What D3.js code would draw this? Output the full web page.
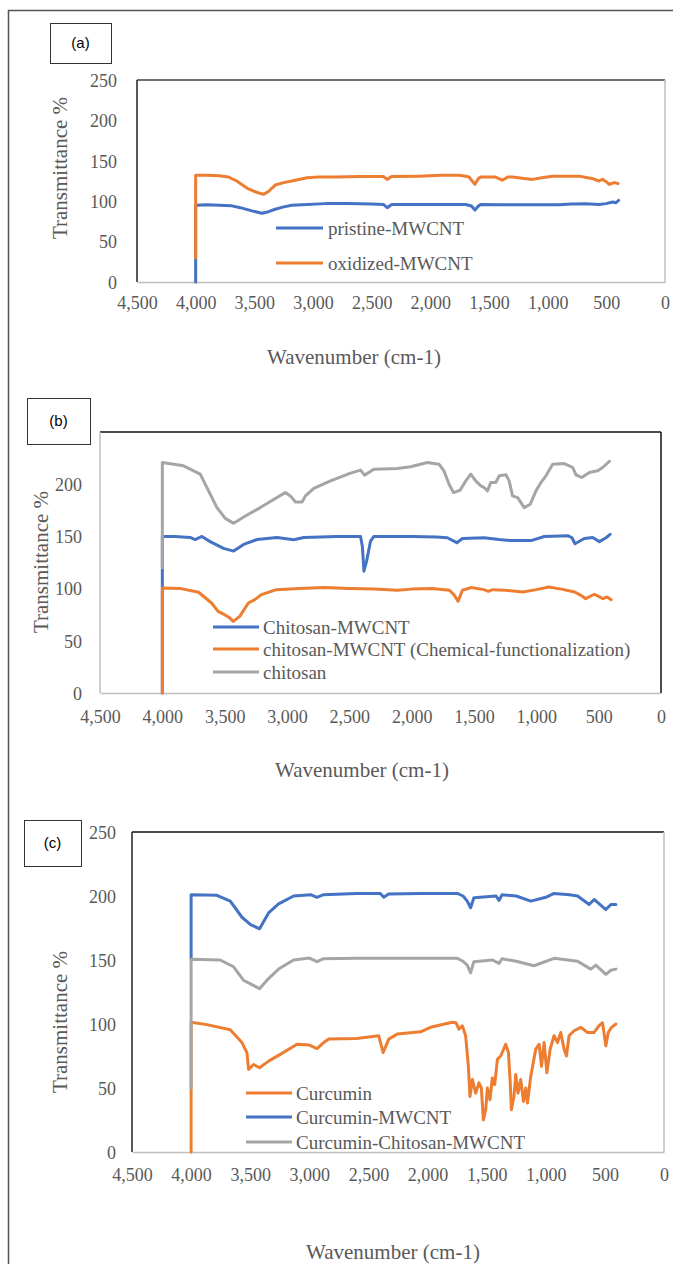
<!DOCTYPE html>
<html><head><meta charset="utf-8">
<script src="https://cdn.jsdelivr.net/npm/d3@7"></script>
<style>body{margin:0;background:#fff}svg{display:block}</style>
</head><body>
<svg id="chart" width="673" height="1264"></svg>
<script>
// ---------------- DATA ----------------
const xTicks = [4500,4000,3500,3000,2500,2000,1500,1000,500,0];
const yTicksA = [0,50,100,150,200,250];
const yTicksB = [0,50,100,150,200];
const yTicksC = [0,50,100,150,200,250];

// (a)
const pristineMWCNT = [[4000,0],[4000,95],[3900,95.5],[3800,95],[3700,94.5],[3620,92],[3520,88],[3435,85],[3380,87],[3322,90],[3250,93],[3180,95],[3050,96],[2895,97],[2700,97],[2500,96.5],[2400,96],[2368,92],[2330,96],[2100,96],[1900,96],[1700,96],[1650,94],[1620,89],[1590,94],[1571,96],[1400,95.5],[1200,95.5],[1000,95.5],[905,95.5],[800,96.5],[674,96.8],[560,96],[503,97],[446,99],[420,98],[395,101]];
const oxidizedMWCNT = [[4000,30],[4000,132],[3900,132],[3800,131.5],[3723,130],[3650,125],[3560,116],[3480,111],[3422,108.5],[3380,112],[3322,120],[3250,123],[3151,126],[3050,129],[2954,130],[2800,130],[2600,130.5],[2400,130.5],[2368,127],[2330,130.5],[2100,131],[1900,132],[1756,132],[1700,131],[1671,130],[1620,121],[1590,128],[1571,130],[1450,130],[1386,126],[1340,130],[1300,130],[1200,128],[1129,127],[1050,129],[959,131],[850,131],[731,131],[660,129],[617,128],[563,125],[532,127],[500,124],[475,121],[432,123],[400,122]];

// (b)
const chitosanMWCNT = [[4000,0],[4000,150],[3900,150],[3777,149],[3736,147],[3683,150],[3616,145],[3509,138.5],[3428,135.9],[3348,142.3],[3240,147],[3080,149],[2946,146.8],[2866,149],[2600,150],[2410,150],[2395,140],[2383,116.7],[2362,126],[2330,145.5],[2303,150],[2000,150],[1800,149.5],[1714,148.7],[1638,144],[1592,148],[1419,148.7],[1300,147],[1204,146],[1043,146],[936,149.9],[748,150.7],[714,148.7],[690,143],[615,148],[548,149],[494,145],[441,148.7],[408,152]];
const chitosanChem = [[4000,0],[4000,100.6],[3850,100],[3709,96.5],[3605,86.2],[3553,78.2],[3501,75],[3460,72],[3431,68.6],[3379,73.4],[3310,86.2],[3258,89.4],[3206,94.2],[3085,99],[2900,100],[2703,101],[2500,100],[2300,99.5],[2113,98.4],[2000,99.5],[1836,100],[1697,98.4],[1660,94],[1628,87.8],[1593,98.4],[1524,101],[1420,99],[1385,97.4],[1350,99],[1250,98.5],[1108,96.8],[1000,99],[900,101.6],[800,99.5],[692,96.8],[650,94],[604,90.4],[535,94.6],[466,90.4],[432,92],[400,89.4]];
const chitosan = [[4000,120],[4000,220.8],[3830,217.6],[3696,209.6],[3629,193.6],[3562,177.6],[3495,167.3],[3428,162.5],[3334,169.5],[3214,177.6],[3080,187.2],[3013,192],[2973,188.8],[2932,183],[2879,183],[2852,188.8],[2785,195.9],[2651,203.2],[2490,210.6],[2410,213.5],[2378,208.7],[2303,214.4],[2115,215],[2008,216.7],[1874,220.8],[1781,219.2],[1741,212.8],[1700,200],[1665,192],[1612,194.2],[1566,203.2],[1526,209.6],[1486,203.2],[1445,198.4],[1419,196.8],[1392,193.6],[1365,201.6],[1325,201.6],[1298,208],[1244,209],[1218,203.2],[1191,188.8],[1150,187.2],[1097,177.6],[1049,180.8],[1003,193.6],[963,201.6],[923,208],[869,219.2],[776,219.8],[708,216],[682,209],[636,206.4],[575,211.2],[508,212.8],[468,216],[414,221.8]];

// (c)
const curcumin = [[4000,0],[4000,101.3],[3867,99.5],[3669,95.5],[3570,85.5],[3528,77.7],[3514,64.5],[3472,68.4],[3421,65.8],[3345,71],[3246,76.3],[3104,84.2],[3000,83.5],[2935,80.8],[2879,85.5],[2836,88.2],[2600,88.7],[2413,90.8],[2376,77.7],[2328,88.2],[2257,92.1],[2059,93.9],[1975,97.4],[1791,101.3],[1760,101],[1735,96],[1706,98.6],[1678,90.8],[1655,67],[1641,43.4],[1621,56.6],[1593,46],[1565,54],[1545,50],[1528,25],[1508,33],[1494,50],[1472,40.8],[1452,57.9],[1432,52.6],[1409,72.4],[1381,75],[1339,84.2],[1316,77.7],[1302,56.6],[1291,33],[1269,43.4],[1254,60.5],[1235,46],[1212,56.6],[1189,39.5],[1169,50],[1155,38.2],[1127,59.2],[1085,80.3],[1056,84.2],[1036,67],[1014,85.5],[991,61.9],[963,80.3],[930,90.8],[901,85.5],[873,93.4],[845,80.3],[825,75],[803,90.8],[761,94.7],[703,97.4],[647,93.4],[591,93.4],[549,98.7],[520,101],[492,82.9],[472,93.4],[444,97.4],[407,100]];
const curcuminMWCNT = [[4000,150],[4000,201],[3782,200.5],[3669,196],[3570,183.4],[3497,177.6],[3421,174.4],[3345,186.8],[3260,193.9],[3133,200],[2990,201],[2935,199],[2880,201],[2600,202],[2400,202],[2370,199],[2330,201.5],[2059,202],[1748,202],[1700,200],[1664,196],[1636,190.8],[1608,198.7],[1500,199.5],[1420,200],[1396,196.5],[1370,201],[1250,200],[1127,196],[1000,199],[930,202],[800,201],[731,200],[633,193.4],[591,197.3],[492,189.4],[449,193.4],[407,193.4]];
const curcuminChitosanMWCNT = [[4000,50],[4000,150.5],[3754,150],[3641,144.7],[3557,134.2],[3486,130.8],[3421,127.6],[3345,135.5],[3260,142.9],[3133,150],[3000,151.5],[2935,148.7],[2880,151],[2600,151.3],[2059,151.3],[1748,151.3],[1700,149],[1664,146],[1636,140],[1608,148.7],[1450,150],[1396,147.4],[1370,151],[1250,149],[1099,145.5],[930,151.3],[731,149],[619,142.9],[576,146],[492,138.7],[449,142],[407,142.9]];

const labelsA = ["pristine-MWCNT","oxidized-MWCNT"];
const labelsB = ["Chitosan-MWCNT","chitosan-MWCNT (Chemical-functionalization)","chitosan"];
const labelsC = ["Curcumin","Curcumin-MWCNT","Curcumin-Chitosan-MWCNT"];

// ---------------- STYLE / LAYOUT ----------------
const BLUE = "#4472C4", ORANGE = "#ED7D31", GRAY = "#A5A5A5";
const SERIF = "'Liberation Serif','Times New Roman',serif";
const TXT = "#595959";

const svg = d3.select("#chart");
svg.append("rect").attr("width",673).attr("height",1264).attr("fill","#fff");
// outer frame
svg.append("path").attr("d","M8.5,1264V10.5H673").attr("fill","none").attr("stroke","#555").attr("stroke-width",1.5);

const panels = [
  { tag:"(a)", box:[50,23,61,40], l:137, t:80, r:665, b:282, yMax:250, yTicks:yTicksA, yLabX:117,
    xLabY:309, xTitle:[354,357], yTitle:[60,168],
    borders:{top:"#404040",left:"#222",right:"#bfbfbf",bottom:"#bfbfbf"},
    series:[{d:pristineMWCNT,c:BLUE},{d:oxidizedMWCNT,c:ORANGE}],
    legend:{x0:276,x1:323,tx:328,ys:[228,263],labels:labelsA,colors:[BLUE,ORANGE]} },
  { tag:"(b)", box:[27,398,63,46], l:100, t:432, r:661, b:693, yMax:250, yTicks:yTicksB, yLabX:82,
    xLabY:723, xTitle:[362,770], yTitle:[41,562],
    borders:{top:"#111",left:"#bfbfbf",right:"#111",bottom:"#bfbfbf"},
    series:[{d:chitosanMWCNT,c:BLUE},{d:chitosanChem,c:ORANGE},{d:chitosan,c:GRAY}],
    legend:{x0:213,x1:259,tx:263,ys:[627,649,672],labels:labelsB,colors:[BLUE,ORANGE,GRAY]} },
  { tag:"(c)", box:[24,820,57,46], l:132, t:832, r:664, b:1152, yMax:250, yTicks:yTicksC, yLabX:116,
    xLabY:1181, xTitle:[393,1252], yTitle:[60,1022],
    borders:{top:"#111",left:"#222",right:"#bfbfbf",bottom:"#bfbfbf"},
    series:[{d:curcumin,c:ORANGE},{d:curcuminMWCNT,c:BLUE},{d:curcuminChitosanMWCNT,c:GRAY}],
    legend:{x0:246,x1:292,tx:296,ys:[1093,1117,1142],labels:labelsC,colors:[ORANGE,BLUE,GRAY]} }
];

panels.forEach(p => {
  const g = svg.append("g");
  const x = d3.scaleLinear().domain([4500,0]).range([p.l,p.r]);
  const y = d3.scaleLinear().domain([0,p.yMax]).range([p.b,p.t]);

  // plot area borders
  g.append("line").attr("x1",p.l).attr("x2",p.r).attr("y1",p.t).attr("y2",p.t).attr("stroke",p.borders.top).attr("stroke-width",1.5);
  g.append("line").attr("x1",p.l).attr("x2",p.l).attr("y1",p.t).attr("y2",p.b).attr("stroke",p.borders.left).attr("stroke-width",1.5);
  g.append("line").attr("x1",p.r).attr("x2",p.r).attr("y1",p.t).attr("y2",p.b).attr("stroke",p.borders.right).attr("stroke-width",1.5);

  // x axis
  const xa = g.append("g").attr("transform",`translate(0,${p.b})`)
    .call(d3.axisBottom(x).tickValues(xTicks).tickSize(0).tickPadding(0).tickFormat(d3.format(",")));
  xa.attr("font-family",SERIF).attr("font-size",18);
  xa.select(".domain").attr("stroke",p.borders.bottom).attr("stroke-width",1.5);
  xa.selectAll("text").attr("y",p.xLabY - p.b).attr("dy",0)
    .style("font-family",SERIF).style("font-size","18px").attr("fill",TXT);

  // y axis labels
  const ya = g.append("g").attr("transform",`translate(${p.yLabX},0)`)
    .call(d3.axisLeft(y).tickValues(p.yTicks).tickSize(0).tickPadding(0));
  ya.attr("font-family",SERIF).attr("font-size",18);
  ya.select(".domain").remove();
  ya.selectAll("text").attr("x",0).attr("dy","0.35em")
    .style("font-family",SERIF).style("font-size","18px").attr("fill",TXT);

  // series
  const line = d3.line().x(d=>x(d[0])).y(d=>y(d[1]));
  p.series.forEach(s => {
    g.append("path").attr("d",line(s.d)).attr("fill","none").attr("stroke",s.c)
      .attr("stroke-width",3).attr("stroke-linejoin","round").attr("stroke-linecap","round");
  });

  // legend
  p.legend.ys.forEach((ly,i) => {
    g.append("line").attr("x1",p.legend.x0).attr("x2",p.legend.x1).attr("y1",ly).attr("y2",ly)
      .attr("stroke",p.legend.colors[i]).attr("stroke-width",3);
    g.append("text").attr("x",p.legend.tx).attr("y",ly).attr("dy","0.35em")
      .style("font-family",SERIF).style("font-size","19px").attr("fill",TXT).text(p.legend.labels[i]);
  });

  // titles
  g.append("text").attr("x",p.xTitle[0]).attr("y",p.xTitle[1]).attr("dy","0.35em").attr("text-anchor","middle")
    .style("font-family",SERIF).style("font-size","21px").attr("fill",TXT).text("Wavenumber (cm-1)");
  g.append("text").attr("transform",`translate(${p.yTitle[0]},${p.yTitle[1]}) rotate(-90)`).attr("dy","0.35em")
    .attr("text-anchor","middle").style("font-family",SERIF).style("font-size","21px").attr("fill",TXT).text("Transmittance %");

  // panel tag box
  g.append("rect").attr("x",p.box[0]+0.5).attr("y",p.box[1]+0.5).attr("width",p.box[2]).attr("height",p.box[3])
    .attr("fill","#fff").attr("stroke","#333").attr("stroke-width",1);
  g.append("text").attr("x",p.box[0]+p.box[2]/2).attr("y",p.box[1]+p.box[3]/2).attr("dy","0.35em")
    .attr("text-anchor","middle").style("font-family","'Liberation Sans Narrow','Liberation Sans',sans-serif")
    .style("font-size","15px").attr("fill","#000").text(p.tag);
});
</script>
</body></html>
